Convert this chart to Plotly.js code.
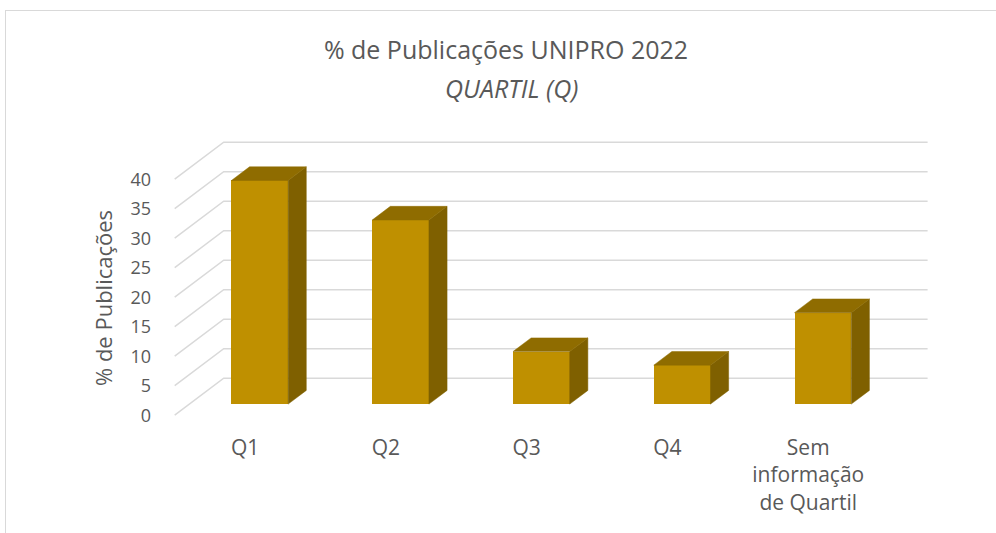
<!DOCTYPE html>
<html>
<head>
<meta charset="utf-8">
<script src="https://cdn.plot.ly/plotly-3.0.1.min.js"></script>
<style>
  html, body { margin: 0; padding: 0; background: #ffffff; }
  #wrap { position: relative; width: 996px; height: 533px; overflow: hidden; }
  #chart { position: absolute; left: 0; top: 0; width: 996px; height: 533px; }
  #frame { position: absolute; left: 5px; top: 10px; width: 1200px; height: 800px;
           border-left: 1px solid #d9d9d9; border-top: 1px solid #d9d9d9; pointer-events: none; }
</style>
</head>
<body>
<div id="wrap">
  <div id="chart"></div>
  <div id="frame"></div>
</div>
<script>
// ---- data ----
const categories = ['Q1', 'Q2', 'Q3', 'Q4', 'Sem<br>informação<br>de Quartil'];
const values = [37.9, 31.2, 8.9, 6.6, 15.5];
const yTicks = [0, 5, 10, 15, 20, 25, 30, 35, 40];
const chartTitle = '% de Publicações UNIPRO 2022';
const chartSubtitle = 'QUARTIL (Q)';
const yTitle = '% de Publicações';

// ---- pseudo-3D geometry (oblique projection, in axis units) ----
const DX = 0.348;       // x shift from front plane to back wall
const DY = 6.27;        // y shift from front plane to back wall
const BAR_FRONT = 0.30; // depth of bar front face
const BAR_DEPTH = 0.37; // bar depth
const BAR_W = 0.403;

const centers = categories.map((c, i) => i + 0.5);
const nCat = categories.length;

// gridlines: back wall + left wall diagonals
const gx = [], gy = [];
yTicks.forEach(t => {
  gx.push(0, DX, nCat + DX, null);
  gy.push(t, t + DY, t + DY, null);
});

const base = BAR_FRONT * DY;
const xoff = BAR_FRONT * DX;
const ddx = BAR_DEPTH * DX, ddy = BAR_DEPTH * DY;

const sideX = [], sideY = [], topX = [], topY = [];
values.forEach((v, i) => {
  const xl = centers[i] + xoff - BAR_W / 2;
  const xr = centers[i] + xoff + BAR_W / 2;
  const yb = base, yt = base + v;
  sideX.push(xr, xr + ddx, xr + ddx, xr, xr, null);
  sideY.push(yb, yb + ddy, yt + ddy, yt, yb, null);
  topX.push(xl, xr, xr + ddx, xl + ddx, xl, null);
  topY.push(yt, yt, yt + ddy, yt + ddy, yt, null);
});

const traces = [
  { type: 'scatter', mode: 'lines', x: gx, y: gy, line: { color: '#d9d9d9', width: 1.5 },
    hoverinfo: 'skip', showlegend: false, xaxis: 'x', yaxis: 'y' },
  { type: 'bar', x: centers.map(c => c + xoff), y: values, base: base, width: BAR_W,
    marker: { color: '#BF9000', line: { width: 0 } }, showlegend: false,
    textposition: 'none', hovertemplate: '%{y}<extra></extra>', xaxis: 'x2', yaxis: 'y2' },
  { type: 'scatter', mode: 'lines', x: sideX, y: sideY, fill: 'toself', fillcolor: '#7F6000',
    line: { color: '#7F6000', width: 0.5 }, hoverinfo: 'skip', showlegend: false, xaxis: 'x2', yaxis: 'y2' },
  { type: 'scatter', mode: 'lines', x: topX, y: topY, fill: 'toself', fillcolor: '#8F6C00',
    line: { color: '#8F6C00', width: 0.5 }, hoverinfo: 'skip', showlegend: false, xaxis: 'x2', yaxis: 'y2' }
];

const font = "Open Sans, Noto Sans, sans-serif";
const XR = [-0.14, 5.5], YR = [-2, 48];
const layout = {
  width: 996, height: 533,
  margin: { l: 155, r: 47, t: 132, b: 106 },
  paper_bgcolor: 'rgba(0,0,0,0)', plot_bgcolor: 'rgba(0,0,0,0)',
  font: { family: font, color: '#595959' },
  title: { text: chartTitle, font: { size: 25, color: '#595959', family: font },
           x: 506 / 996, xref: 'container', xanchor: 'center',
           y: 1 - 50 / 533, yref: 'container', yanchor: 'middle' },
  annotations: [
    { text: '<i>' + chartSubtitle + '</i>', xref: 'paper', yref: 'paper',
      x: (511 - 155) / 794, y: (427 - 88) / 295, xanchor: 'center', yanchor: 'middle',
      showarrow: false, font: { size: 25, color: '#595959', family: font } },
    { text: yTitle, textangle: -90, xref: 'paper', yref: 'paper',
      x: (103 - 155) / 794, y: (427 - 298) / 295, xanchor: 'center', yanchor: 'middle',
      showarrow: false, font: { size: 22, color: '#595959', family: font } }
  ],
  xaxis: { range: XR, tickvals: centers, ticktext: categories,
           showgrid: false, zeroline: false, showline: false, ticks: '',
           ticklabelstandoff: 6,
           tickfont: { size: 21, color: '#595959' }, fixedrange: true },
  yaxis: { range: YR, tickvals: yTicks, ticktext: yTicks.map(String),
           showgrid: false, zeroline: false, showline: false, ticks: '',
           ticklabelstandoff: 3,
           tickfont: { size: 18, color: '#595959' }, fixedrange: true },
  xaxis2: { range: XR, overlaying: 'x', visible: false, fixedrange: true },
  yaxis2: { range: YR, overlaying: 'y', visible: false, fixedrange: true },
  bargap: 0
};

Plotly.newPlot('chart', traces, layout, { displayModeBar: false, staticPlot: true });
</script>
</body>
</html>
